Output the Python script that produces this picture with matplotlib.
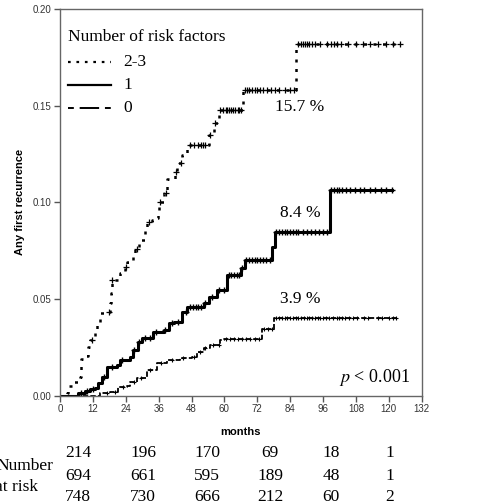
import numpy as np
import matplotlib
matplotlib.use("Agg")
import matplotlib.pyplot as plt

# ---------------- data ----------------
# group 2-3 risk factors (dotted)
t_23 = [0, 2.4, 3, 5.1, 7.3, 7.7, 9.5, 10.4, 11, 12.8, 13.4, 14.6, 17.5, 18.2, 18.6, 18.9, 21.9, 23.8,
        24.4, 26.8, 27.2, 29, 31.1, 31.7, 33.5, 35.4, 35.9, 36.3, 37.8, 39, 42, 42.7, 44.5, 46.3,
        54.2, 56.1, 57.9, 66.8, 86.3, 124]
v_23 = [0, 0.0012, 0.005, 0.007, 0.0098, 0.019, 0.0207, 0.025, 0.0288, 0.0336, 0.0378, 0.0427,
        0.0434, 0.048, 0.053, 0.060, 0.0634, 0.0667, 0.069, 0.072, 0.076, 0.0805, 0.0857, 0.090, 0.091,
        0.0918, 0.0957, 0.1004, 0.1047, 0.1120, 0.1159, 0.1202, 0.1245, 0.1297, 0.1349, 0.141,
        0.148, 0.158, 0.1818, 0.1818]
c_23 = [11.5, 17.8, 19, 24.2, 28, 32.3, 36.5, 38.6, 42.5, 44, 47.5, 49, 50.2, 51.3, 52.2, 53,
        54.8, 56.5,
        58.5, 59.5, 60.5, 61, 61.8, 62.5, 63.2, 64, 64.8, 65.5, 66.2,
        67.5, 68.2, 69, 70, 71, 72, 73, 74, 75.5, 77, 78.5, 80, 82, 84, 85.5,
        87, 87.8, 88.5, 89.5, 90.2, 91, 92, 93, 95, 97.5, 99, 100, 101, 102.5, 105, 108, 110.5,
        113, 116, 119, 121.5, 124]

# group 1 risk factor (solid)
t_1 = [0, 6.7, 9.1, 11, 12.8, 14, 15.2, 17.1, 20.7, 21.9, 25.6, 26.8, 28.6, 29.9, 34.1, 37.8,
       39.6, 41.5, 44.5, 46.3, 52.4, 54.2, 57.3, 61, 66, 67.6, 77.4, 78.6, 98.5, 121.3]
v_1 = [0, 0.0016, 0.0026, 0.0033, 0.0038, 0.0064, 0.0098, 0.015, 0.0159, 0.0185, 0.020, 0.0236,
       0.028, 0.030, 0.033, 0.034, 0.0375, 0.0383, 0.0434, 0.046, 0.048, 0.051, 0.0547, 0.0624,
       0.066, 0.070, 0.077, 0.0848, 0.1064, 0.1064]
c_1 = [7.5, 10, 12, 16, 19, 22.5, 27, 29, 31, 33, 35, 38.5, 41, 43, 46, 47.5, 48.5, 49.5, 50.5,
       51.5, 53, 55.5, 58, 60, 61.5, 62.5, 63.5, 64.5, 65.5, 66.5, 68, 69, 70, 71, 72, 73, 74,
       75, 76.5, 79, 80, 81, 82, 83, 84, 85, 86, 87, 88.5, 90, 91.5, 93, 94.5, 96, 97.5,
       99, 100, 101, 102, 103, 104.5, 106, 107.5, 109.5, 111, 113, 115, 117, 119, 121]

# group 0 risk factors (dashed)
t_0 = [0, 14.6, 18.3, 21.3, 24.4, 25.6, 28, 31.7, 35.4, 39, 43.9, 48.2, 50, 52.4, 54.8, 58.5,
       59.7, 73.8, 78, 122.5]
v_0 = [0, 0.0012, 0.002, 0.0047, 0.005, 0.0072, 0.009, 0.0133, 0.0168, 0.0185, 0.0193, 0.020,
       0.0228, 0.0245, 0.0262, 0.0288, 0.0295, 0.0343, 0.040, 0.040]
c_0 = [17, 20, 23, 27, 29.5, 33, 37, 41, 45, 49, 51, 53, 56, 58, 60.5, 62, 63.5, 65, 66.5, 68,
       69.5, 71, 72.5, 74.5, 76, 77.5, 79, 80, 81, 82, 83, 84, 85, 86, 87, 88, 89, 90, 91, 92,
       93, 94, 95, 96, 97, 98, 99.5, 101, 102, 103, 104, 105.5, 107, 108.5, 111, 112.5,
       116, 117.5, 120, 121.5, 122.5]

x_ticks = [0, 12, 24, 36, 48, 60, 72, 84, 96, 108, 120, 132]
y_ticks = [0.00, 0.05, 0.10, 0.15, 0.20]
legend_labels = ["2-3", "1", "0"]
pct_labels = ["15.7 %", "8.4 %", "3.9 %"]
risk_23 = [214, 196, 170, 69, 18, 1]
risk_1 = [694, 661, 595, 189, 48, 1]
risk_0 = [748, 730, 666, 212, 60, 2]

# ---------------- figure ----------------
W, H = 486, 504
fig = plt.figure(figsize=(W / 100, H / 100), dpi=100)
ax = fig.add_axes([60 / W, 1 - 395.7 / H, (421.7 - 60) / W, (395.7 - 9) / H])

serif = ["Liberation Serif", "DejaVu Serif"]
sans = ["Liberation Sans", "DejaVu Sans"]

def step_val(ts, vs, x):
    idx = np.searchsorted(ts, x, side="right") - 1
    return np.asarray(vs)[np.clip(idx, 0, len(vs) - 1)]

dotted = (0, (1.2, 2.6))
dashed = (0, (3, 1.2))

ax.step(t_23, v_23, where="post", color="black", lw=1.8, linestyle=dotted)
ax.plot(c_23, step_val(t_23, v_23, c_23), "+", color="black", ms=5, mew=0.9)

ax.step(t_1, v_1, where="post", color="black", lw=2.2, linestyle="-")
ax.plot(c_1, step_val(t_1, v_1, c_1), "+", color="black", ms=5, mew=1.0)

ax.step(t_0, v_0, where="post", color="black", lw=1.3, linestyle=dashed)
ax.plot(c_0, step_val(t_0, v_0, c_0), "+", color="black", ms=3.5, mew=0.8)

ax.set_xlim(0, 132)
ax.set_ylim(0, 0.20)
ax.set_xticks(x_ticks)
ax.set_yticks(y_ticks)
ax.set_xticklabels([str(t) for t in x_ticks], fontfamily=sans, fontsize=7, color="#333333")
ax.set_yticklabels([f"{t:.2f}" for t in y_ticks], fontfamily=sans, fontsize=7, color="#333333")
ax.tick_params(direction="out", length=4, width=1, color="#555555", pad=2)
for s in ax.spines.values():
    s.set_color("#666666")
    s.set_linewidth(1.0)
ax.set_xlabel("months", fontfamily=sans, fontsize=8, fontweight="bold", labelpad=9)
ax.set_ylabel("Any first recurrence", fontfamily=sans, fontsize=8, fontweight="bold", labelpad=6)

# legend (manual)
def px(x, y):
    return x / W, 1 - y / H

fig.text(*px(68, 37), "Number of risk factors", fontfamily=serif, fontsize=12.5, va="center", ha="left")
styles = [(dotted, 1.6), ("-", 1.6), ((0, (3, 3, 10, 3)), 1.4)]
for i, (lab, (ls, lw)) in enumerate(zip(legend_labels, styles)):
    yy = 62 + i * 23
    fig.add_artist(matplotlib.lines.Line2D([68 / W, 111 / W], [1 - yy / H, 1 - yy / H],
                                           color="black", lw=lw, linestyle=ls))
    fig.text(*px(123, yy), lab, fontfamily=serif, fontsize=12.5, va="center", ha="left")

# percentage labels
for lab, yy in zip(pct_labels, [107, 213, 299]):
    fig.text(*px(300, yy), lab, fontfamily=serif, fontsize=12.5, va="center", ha="center")

fig.text(*px(410, 378), r"$p$ < 0.001", fontfamily=serif, fontsize=13, va="center", ha="right",
         math_fontfamily="stix")

# number at risk table
fig.text(*px(-4, 466), "Number", fontfamily=serif, fontsize=12.5, va="center", ha="left")
fig.text(*px(-5, 487), "at risk", fontfamily=serif, fontsize=12.5, va="center", ha="left")
xs = [78, 143, 207, 270, 331, 390]
for row, yy in zip([risk_23, risk_1, risk_0], [453, 476, 497]):
    for x, n in zip(xs, row):
        fig.text(*px(x, yy), str(n), fontfamily=serif, fontsize=12.5, va="center", ha="center")

fig.savefig("out.png", dpi=100)
